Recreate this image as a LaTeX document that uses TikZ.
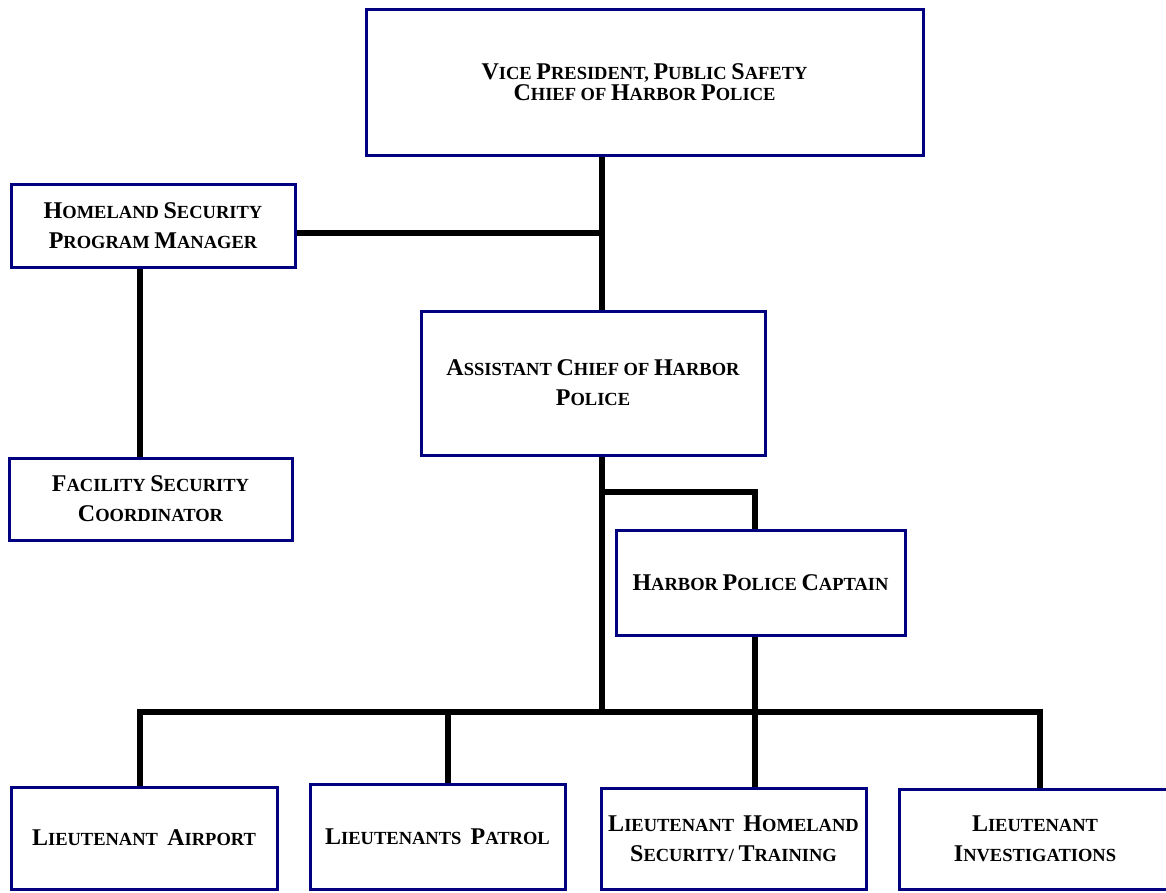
\documentclass[tikz,border=0pt]{standalone}
\usepackage{fontspec}
\usetikzlibrary{backgrounds}
\setmainfont{Liberation Serif}
\definecolor{boxblue}{RGB}{0,0,128}
\newcommand\bg[1]{{\fontsize{24}{24}\selectfont #1}}
\tikzset{
  post/.style={draw=boxblue, line width=3pt, fill=white, align=center, inner sep=0pt,
    font=\bfseries\fontsize{18.5}{30}\selectfont},
  wire/.style={line width=5.5pt, line join=miter}
}
\begin{document}
\begin{tikzpicture}[x=1pt,y=-1pt]
\useasboundingbox (0,0) rectangle (1166,892);

% top of the chart
\node[post, minimum width=557, minimum height=146, font=\bfseries\fontsize{18.5}{21}\selectfont] (vp) at (644.5,82)
  {\bg{V}ICE \bg{P}RESIDENT, \bg{P}UBLIC \bg{S}AFETY\\ \bg{C}HIEF OF \bg{H}ARBOR \bg{P}OLICE};
\node[post, minimum width=284, minimum height=83] (hspm) at (153,225.5)
  {\bg{H}OMELAND \bg{S}ECURITY\\ \bg{P}ROGRAM \bg{M}ANAGER};
\node[post, minimum width=344, minimum height=144] (asst) at (593,383)
  {\bg{A}SSISTANT \bg{C}HIEF OF \bg{H}ARBOR\\ \bg{P}OLICE};
\node[post, minimum width=283, minimum height=82] (fsc) at (150.5,499)
  {\bg{F}ACILITY \bg{S}ECURITY\\ \bg{C}OORDINATOR};
\node[post, minimum width=289, minimum height=105] (capt) at (760.5,582.5)
  {\bg{H}ARBOR \bg{P}OLICE \bg{C}APTAIN};

% lieutenants
\node[post, minimum width=266, minimum height=102] (la) at (144,838)
  {\bg{L}IEUTENANT\ \ \bg{A}IRPORT};
\node[post, minimum width=255, minimum height=105] (lp) at (437.5,836.5)
  {\bg{L}IEUTENANTS\ \ \bg{P}ATROL};
\node[post, minimum width=265, minimum height=101] (lhst) at (733.5,838.5)
  {\bg{L}IEUTENANT\ \ \bg{H}OMELAND\\ \bg{S}ECURITY/ \bg{T}RAINING};
\node[post, minimum width=272, minimum height=100] (li) at (1035,839)
  {\bg{L}IEUTENANT\\ \bg{I}NVESTIGATIONS};

\coordinate (trunk) at (602,233);
\coordinate (split) at (602,492);
\coordinate (bus) at (602,712);

\begin{scope}[on background layer]
\draw[wire] (trunk |- vp.south) -- (trunk |- asst.north);
\draw[wire] (hspm.east |- trunk) -- (trunk);
\draw[wire] ([xshift=-13pt]hspm.south) -- ([xshift=-13pt]hspm.south |- fsc.north);
\draw[wire] ([xshift=9pt]asst.south) -- (bus);
\draw[wire] (split) -| ([xshift=-5.5pt]capt.north);
\draw[wire] ([xshift=-5.5pt]capt.south) -- ([xshift=21.5pt]lhst.north);
\draw[wire] ([xshift=-4pt]la.north) |- ([xshift=5pt]li.north |- bus) -- ([xshift=5pt]li.north);
\draw[wire] ([xshift=10.5pt]lp.north |- bus) -- ([xshift=10.5pt]lp.north);
\end{scope}
\end{tikzpicture}
\end{document}
